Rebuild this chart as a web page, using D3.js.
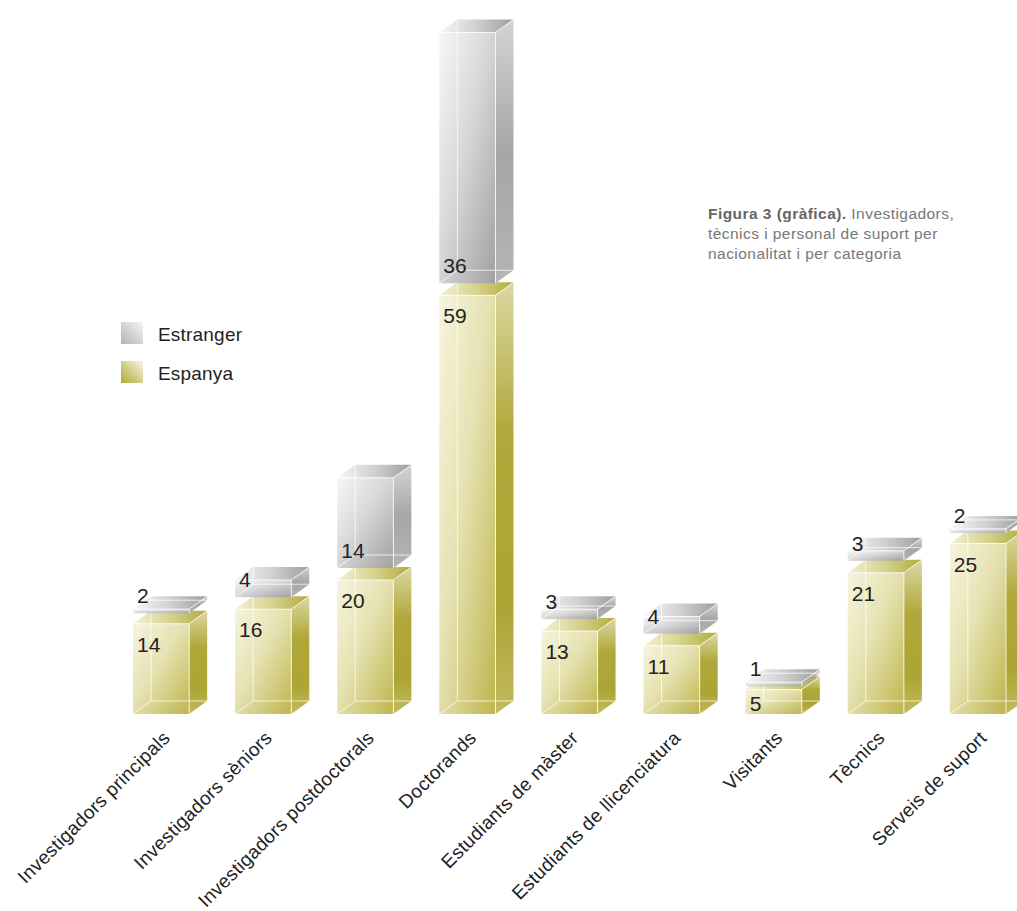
<!DOCTYPE html>
<html>
<head>
<meta charset="utf-8">
<script src="https://cdn.jsdelivr.net/npm/d3@7"></script>
<style>
  html, body { margin: 0; padding: 0; background: #ffffff; overflow: hidden; }
  svg { display: block; }
  text { font-family: "Liberation Sans", Arial, sans-serif; }
</style>
</head>
<body>
<svg id="chart" width="1017" height="911"></svg>
<script>
const categories = ["Investigadors principals", "Investigadors sèniors", "Investigadors postdoctorals",
  "Doctorands", "Estudiants de màster", "Estudiants de llicenciatura", "Visitants", "Tècnics", "Serveis de suport"];
const espanya = [14, 16, 20, 59, 13, 11, 5, 21, 25];
const estranger = [2, 4, 14, 36, 3, 4, 1, 3, 2];
const seriesNames = ["Estranger", "Espanya"];
const titleBold = "Figura 3 (gràfica).";
const titleLines = [" Investigadors,", "tècnics i personal de suport per", "nacionalitat i per categoria"];

const svg = d3.select("#chart");

// depth of the 3D boxes
const DX = 18, DY = -13, GAP = 12, MINH = 4;

const x = d3.scaleBand().domain(categories).range([133, 1006]).paddingInner(0.45).paddingOuter(0);
const y = d3.scaleLinear().domain([0, 95]).range([726, 726 - 95 * 7.3]);
const k = y(0) - y(1);

// gradients
const defs = svg.append("defs");
function grad(id, x1, y1, x2, y2, stops) {
  const g = defs.append("linearGradient").attr("id", id)
    .attr("x1", x1).attr("y1", y1).attr("x2", x2).attr("y2", y2);
  stops.forEach(s => g.append("stop").attr("offset", s[0]).attr("stop-color", s[1]));
}
grad("espFront", 0, 0, 1, 1, [[0, "#f6f4de"], [0.45, "#e6e2b2"], [1, "#bdb54c"]]);
grad("espSide", 0, 0, 0, 1, [[0, "#dcd8a2"], [0.35, "#b0a83a"], [0.75, "#aca434"], [1, "#c2bb5e"]]);
grad("espTop", 0, 0, 1, 0, [[0, "#f3f1d6"], [0.5, "#d6d28e"], [1, "#b3ab3c"]]);
grad("estFront", 0, 0, 1, 1, [[0, "#f7f7f7"], [0.45, "#d8d8d8"], [1, "#a0a0a0"]]);
grad("estSide", 0, 0, 0, 1, [[0, "#d4d4d4"], [0.5, "#a6a6a6"], [1, "#b4b4b4"]]);
grad("estTop", 0, 0, 1, 0, [[0, "#f7f7f7"], [0.5, "#d0d0d0"], [1, "#9e9e9e"]]);
grad("legEst", 0, 1, 1, 0, [[0, "#b4b4b4"], [1, "#f6f6f6"]]);
grad("legEsp", 0, 1, 1, 0, [[0, "#b1a938"], [1, "#f7f6e6"]]);

// build segments
const segs = [];
categories.forEach((c, i) => {
  const v1 = espanya[i], v2 = estranger[i];
  segs.push({ cat: c, series: "esp", v: v1, top: y(v1), bottom: y(0) - GAP });
  const t2 = y(v1 + v2);
  const h2 = Math.max(MINH, k * v2 - GAP);
  segs.push({ cat: c, series: "est", v: v2, top: t2, bottom: t2 + h2 });
});

const bw = x.bandwidth();
const gBars = svg.append("g");
segs.forEach(s => {
  const x0 = x(s.cat), x1 = x0 + bw, t = s.top, b = s.bottom;
  const g = gBars.append("g");
  const pre = s.series;
  g.append("path").attr("d", `M${x1},${t}L${x1 + DX},${t + DY}L${x1 + DX},${b + DY}L${x1},${b}Z`)
    .attr("fill", `url(#${pre}Side)`);
  g.append("rect").attr("x", x0).attr("y", t).attr("width", bw).attr("height", b - t)
    .attr("fill", `url(#${pre}Front)`);
  g.append("path").attr("d", `M${x0},${t}L${x0 + DX},${t + DY}L${x1 + DX},${t + DY}L${x1},${t}Z`)
    .attr("fill", `url(#${pre}Top)`);
  g.append("path")
    .attr("d", `M${x0 + DX},${t + DY}L${x0 + DX},${b + DY}L${x1 + DX},${b + DY}M${x0},${b}L${x0 + DX},${b + DY}`)
    .attr("fill", "none").attr("stroke", "#ffffff").attr("stroke-opacity", 0.75).attr("stroke-width", 1);
  g.append("path")
    .attr("d", `M${x1},${b}L${x1},${t}L${x1 + DX},${t + DY}M${x0},${t}L${x1},${t}`)
    .attr("fill", "none").attr("stroke", "#ffffff").attr("stroke-opacity", 0.8).attr("stroke-width", 1);
});

// value labels
segs.forEach(s => {
  const x0 = x(s.cat);
  const base = s.series === "esp" ? Math.min(s.top + 28, s.bottom - 3) : s.bottom - 10;
  svg.append("text").attr("x", x0 + 4).attr("y", base)
    .attr("font-size", 21).attr("fill", "#222").text(s.v);
});

// category axis
const axis = svg.append("g").attr("transform", `translate(0,714)`)
  .call(d3.axisBottom(x).tickSize(0).tickPadding(0));
axis.select(".domain").remove();
axis.selectAll("text")
  .attr("x", 0).attr("y", 0).attr("dy", 0)
  .attr("text-anchor", "end")
  .attr("transform", "translate(10,25) rotate(-45)")
  .attr("font-size", 19).attr("letter-spacing", 0.3).attr("fill", "#222")
  .style("font-family", "'Liberation Sans', Arial, sans-serif");

// legend
const legend = svg.append("g");
seriesNames.forEach((n, i) => {
  const ly = 322 + i * 39;
  legend.append("rect").attr("x", 121).attr("y", ly).attr("width", 22).attr("height", 22)
    .attr("fill", i === 0 ? "url(#legEst)" : "url(#legEsp)");
  legend.append("text").attr("x", 158).attr("y", ly + 19).attr("font-size", 19)
    .attr("letter-spacing", 0.2).attr("fill", "#222").text(n);
});

// title
const title = svg.append("g").attr("font-size", 15.5).attr("letter-spacing", 0.45).attr("fill", "#777");
const t0 = title.append("text").attr("x", 708).attr("y", 219);
t0.append("tspan").attr("font-weight", "bold").attr("fill", "#666").text(titleBold);
t0.append("tspan").text(titleLines[0]);
title.append("text").attr("x", 708).attr("y", 239).text(titleLines[1]);
title.append("text").attr("x", 708).attr("y", 259).text(titleLines[2]);
</script>
</body>
</html>
